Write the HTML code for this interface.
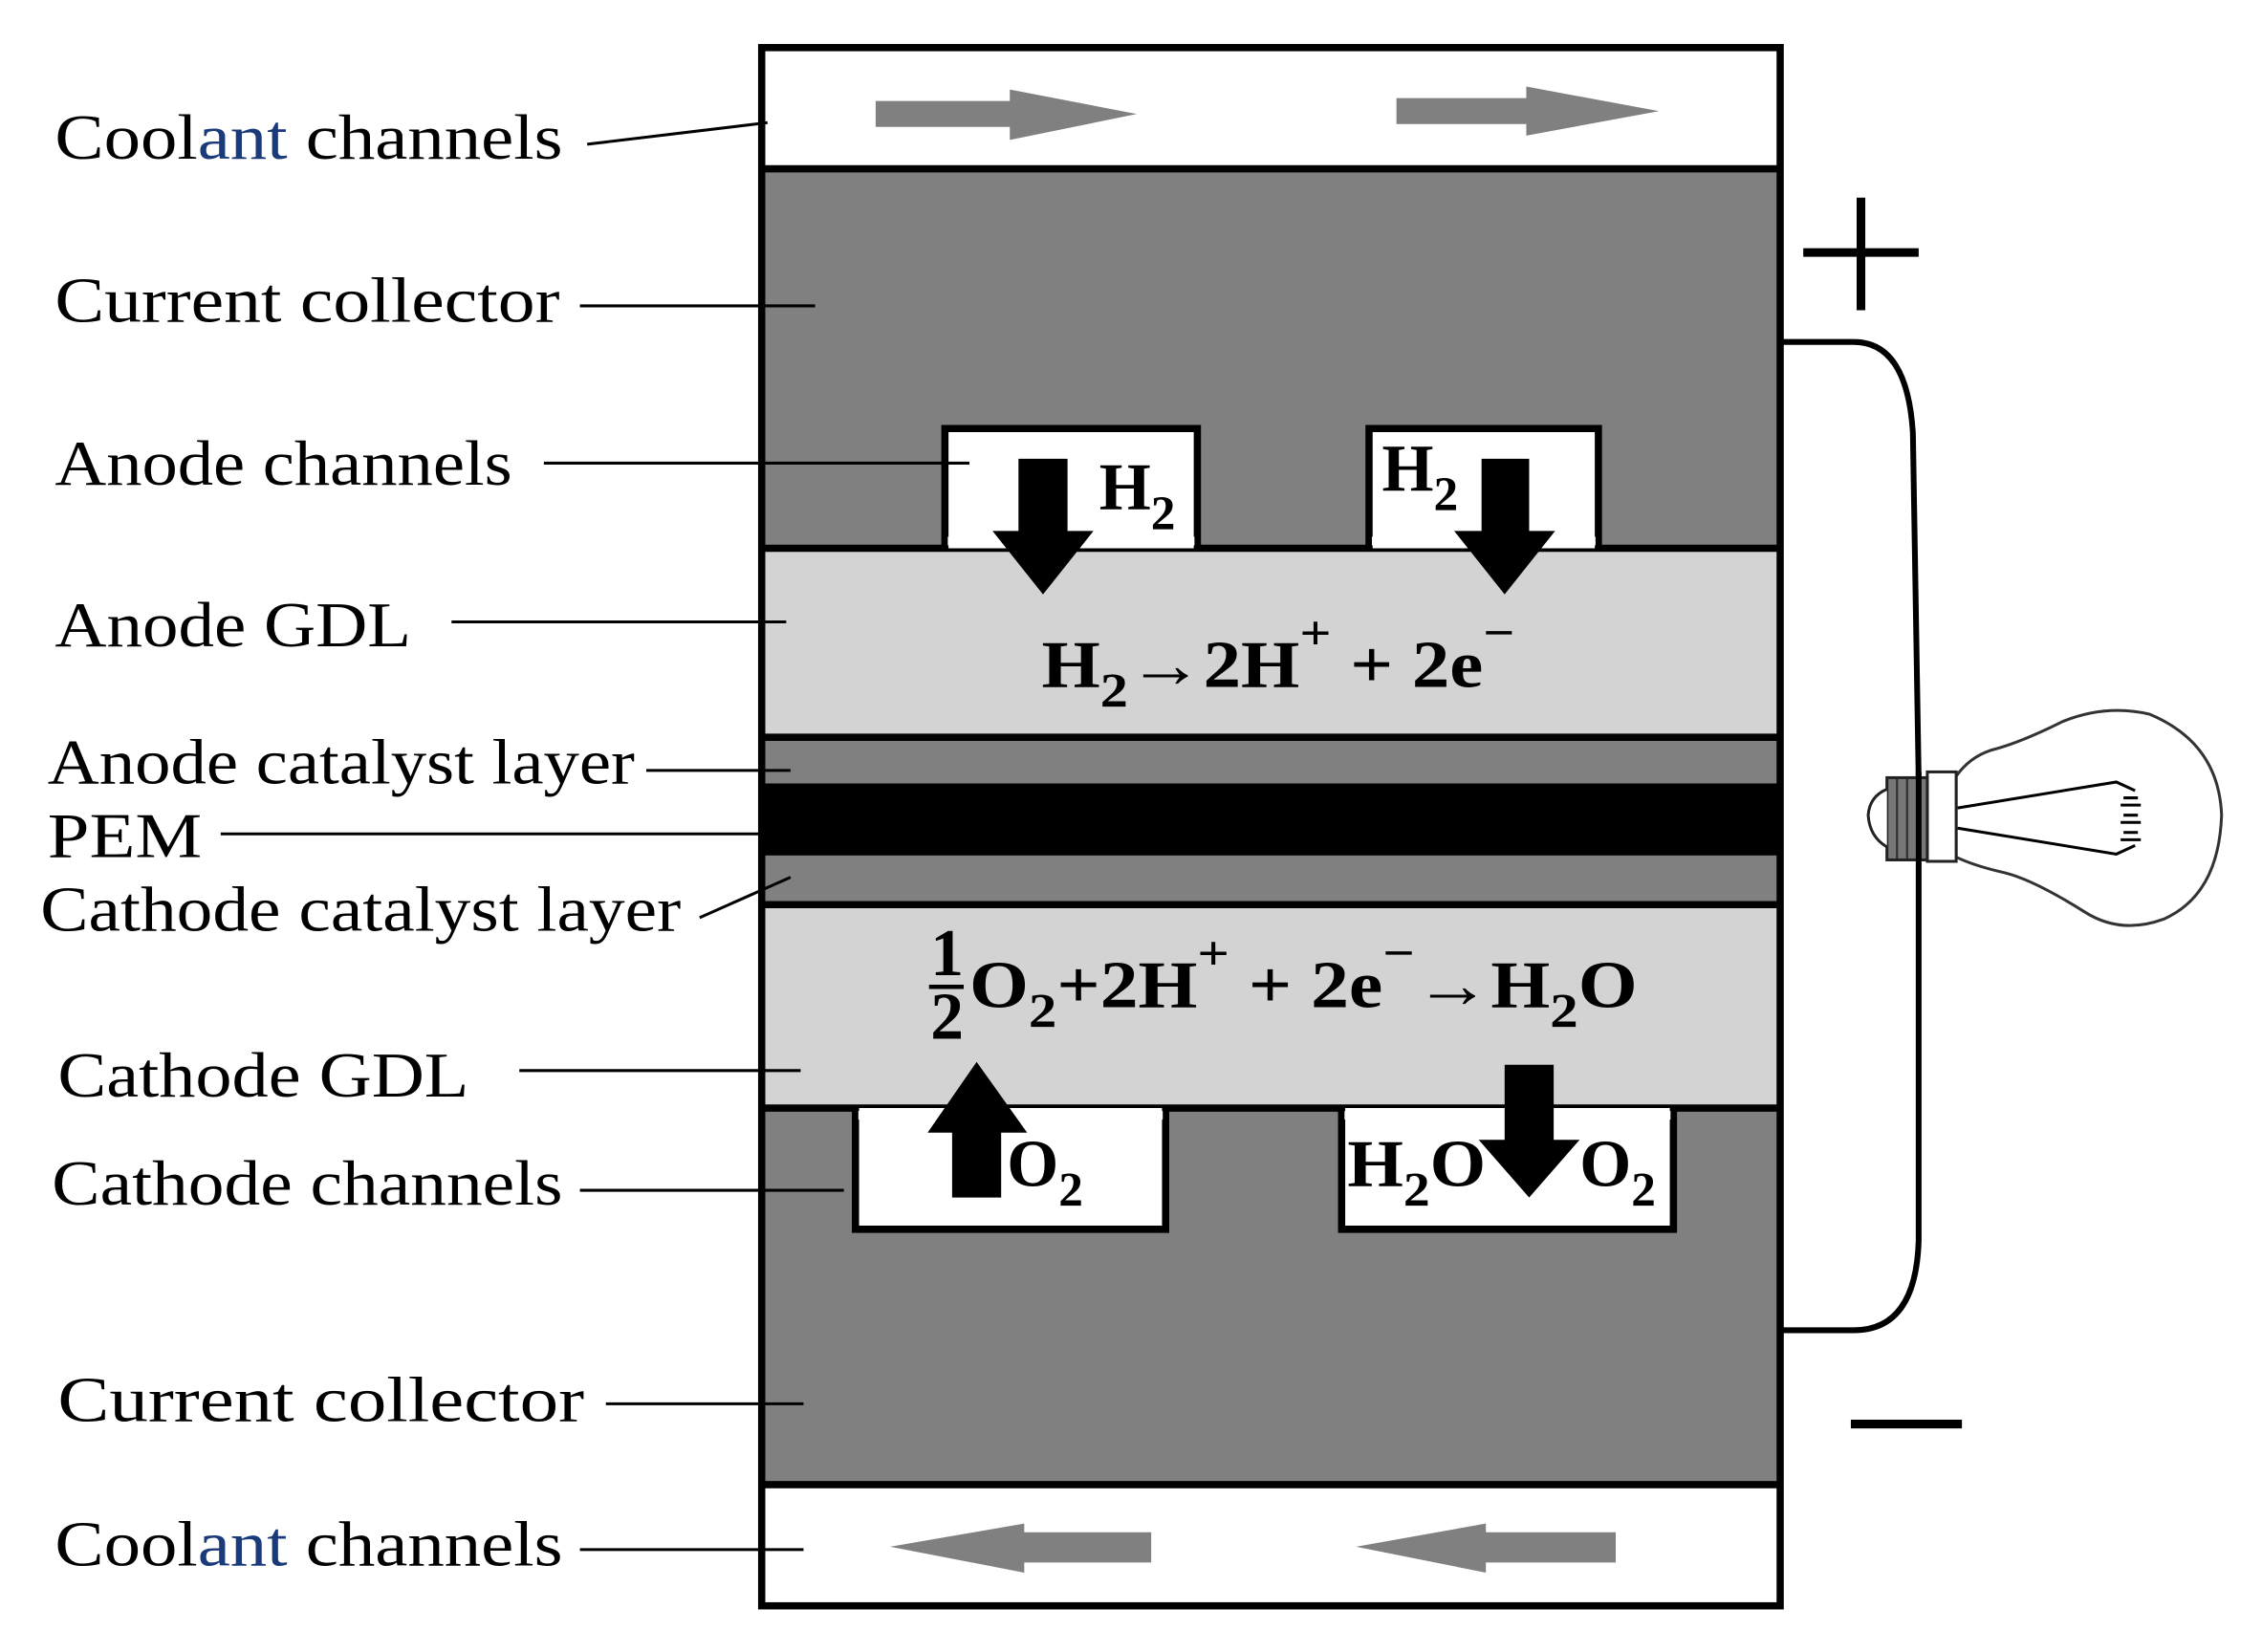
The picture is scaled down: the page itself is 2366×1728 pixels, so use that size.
<!DOCTYPE html>
<html><head><meta charset="utf-8"><style>
html,body{margin:0;padding:0;background:#fff;}
svg{display:block;}
.lab{font-family:"Liberation Serif",serif;font-size:44px;fill:#000;}
.eq{font-family:"Liberation Serif",serif;font-weight:bold;font-size:46px;fill:#000;}
</style></head><body>
<svg width="2366" height="1728" viewBox="0 0 1568 1145" preserveAspectRatio="none" xmlns="http://www.w3.org/2000/svg">
<rect width="1568" height="1145" fill="#fff"/>
<rect x="530" y="35" width="702" height="1076" fill="#fff"/>
<rect x="530" y="117" width="702" height="263" fill="#808080"/>
<rect x="530" y="380" width="702" height="130" fill="#d3d3d3"/>
<rect x="530" y="513" width="702" height="30" fill="#808080"/>
<rect x="530" y="543" width="702" height="50" fill="#000"/>
<rect x="530" y="593" width="702" height="33" fill="#808080"/>
<rect x="530" y="628" width="702" height="140" fill="#d3d3d3"/>
<rect x="530" y="768" width="702" height="260" fill="#808080"/>
<rect x="530" y="1030" width="702" height="81" fill="#fff"/>
<g stroke="#000" stroke-width="5" fill="none">
<line x1="530" y1="117" x2="1232" y2="117"/>
<line x1="530" y1="380" x2="1232" y2="380"/>
<line x1="530" y1="511" x2="1232" y2="511"/>
<line x1="530" y1="627" x2="1232" y2="627"/>
<line x1="530" y1="768" x2="1232" y2="768"/>
<line x1="530" y1="1029" x2="1232" y2="1029"/>
</g>
<g fill="#fff" stroke="#000" stroke-width="5">
<path d="M655 380 V297 H830 V380"/>
<path d="M949 380 V297 H1108 V380"/>
<path d="M593 768 V852 H808 V768"/>
<path d="M930 768 V852 H1160 V768"/>
</g>
<rect x="657" y="372" width="171" height="6" fill="#fff"/>
<rect x="951" y="372" width="155" height="6" fill="#fff"/>
<rect x="595" y="770" width="211" height="6" fill="#fff"/>
<rect x="932" y="770" width="226" height="6" fill="#fff"/>
<rect x="528" y="33" width="706" height="1080" fill="none" stroke="#000" stroke-width="5"/>
<g fill="#808080">
<polygon points="607,70 700,70 700,62 788,79 700,97 700,88 607,88"/>
<polygon points="968,68 1058,68 1058,60 1150,77 1058,94 1058,86 968,86"/>
<polygon points="617,1072 710,1056 710,1062 798,1062 798,1083 710,1083 710,1090"/>
<polygon points="940,1072 1030,1056 1030,1062 1120,1062 1120,1083 1030,1083 1030,1090"/>
</g>
<g fill="#000">
<polygon points="706,318 740,318 740,368 758,368 723,412 688,368 706,368"/>
<polygon points="1027,318 1060,318 1060,368 1078,368 1043,412 1008,368 1027,368"/>
<polygon points="677,736 712,785 694,785 694,830 660,830 660,785 643,785"/>
<polygon points="1043,738 1077,738 1077,790 1095,790 1060,830 1025,790 1043,790"/>
</g>
<text class="eq" x="762" y="353">H<tspan font-size="34" dy="14">2</tspan></text>
<text class="eq" x="958" y="340">H<tspan font-size="34" dy="14">2</tspan></text>
<text class="eq" x="698" y="822">O<tspan font-size="34" dy="14">2</tspan></text>
<text class="eq" x="934" y="822" textLength="96" lengthAdjust="spacingAndGlyphs">H<tspan font-size="34" dy="14">2</tspan><tspan dy="-14">O</tspan></text>
<text class="eq" x="1095" y="822">O<tspan font-size="34" dy="14">2</tspan></text>
<text class="eq" x="722" y="476" textLength="328" lengthAdjust="spacingAndGlyphs">H<tspan font-size="34" dy="14">2</tspan><tspan dy="-14">→2H</tspan><tspan font-size="34" dy="-26">+</tspan><tspan dy="26"> + 2e</tspan><tspan font-size="34" dy="-26">−</tspan></text>
<text class="eq" x="645" y="676" font-size="34">1</text>
<line x1="644" y1="684" x2="668" y2="684" stroke="#000" stroke-width="3"/>
<text class="eq" x="645" y="720" font-size="34">2</text>
<text class="eq" x="672" y="698" textLength="463" lengthAdjust="spacingAndGlyphs">O<tspan font-size="34" dy="14">2</tspan><tspan dy="-14">+2H</tspan><tspan font-size="34" dy="-26">+</tspan><tspan dy="26"> + 2e</tspan><tspan font-size="34" dy="-26">−</tspan><tspan dy="26">→H</tspan><tspan font-size="34" dy="14">2</tspan><tspan dy="-14">O</tspan></text>
<text class="lab" x="38" y="110" textLength="352" lengthAdjust="spacingAndGlyphs">Cool<tspan fill="#1a3a7a">ant</tspan> channels</text>
<text class="lab" x="38" y="223" textLength="350" lengthAdjust="spacingAndGlyphs">Current collector</text>
<text class="lab" x="38" y="336" textLength="317" lengthAdjust="spacingAndGlyphs">Anode channels</text>
<text class="lab" x="38" y="448" textLength="247" lengthAdjust="spacingAndGlyphs">Anode GDL</text>
<text class="lab" x="33" y="543" textLength="407" lengthAdjust="spacingAndGlyphs">Anode catalyst layer</text>
<text class="lab" x="33" y="594" textLength="107" lengthAdjust="spacingAndGlyphs">PEM</text>
<text class="lab" x="28" y="645" textLength="444" lengthAdjust="spacingAndGlyphs">Cathode catalyst layer</text>
<text class="lab" x="40" y="760" textLength="285" lengthAdjust="spacingAndGlyphs">Cathode GDL</text>
<text class="lab" x="36" y="835" textLength="354" lengthAdjust="spacingAndGlyphs">Cathode channels</text>
<text class="lab" x="40" y="985" textLength="365" lengthAdjust="spacingAndGlyphs">Current  collector</text>
<text class="lab" x="38" y="1085" textLength="352" lengthAdjust="spacingAndGlyphs">Cool<tspan fill="#1a3a7a">ant</tspan> channels</text>
<g stroke="#000" stroke-width="2">
<line x1="407" y1="100" x2="532" y2="85"/>
<line x1="402" y1="212" x2="565" y2="212"/>
<line x1="377" y1="321" x2="672" y2="321"/>
<line x1="313" y1="431" x2="545" y2="431"/>
<line x1="448" y1="534" x2="548" y2="534"/>
<line x1="153" y1="578" x2="530" y2="578"/>
<line x1="485" y1="636" x2="548" y2="608"/>
<line x1="360" y1="742" x2="555" y2="742"/>
<line x1="402" y1="825" x2="585" y2="825"/>
<line x1="420" y1="973" x2="557" y2="973"/>
<line x1="402" y1="1074" x2="557" y2="1074"/>
</g>
<g stroke="#000" stroke-width="6">
<line x1="1250" y1="175" x2="1330" y2="175"/>
<line x1="1290" y1="137" x2="1290" y2="215"/>
<line x1="1283" y1="987" x2="1360" y2="987"/>
</g>
<path d="M1234 237 H1285 Q1322 237 1326 300 L1330 540 M1330 598 L1330 860 Q1328 922 1285 922 H1234" fill="none" stroke="#000" stroke-width="4"/>
<path d="M1356 538 Q1365 525 1380 520 Q1400 515 1430 500 Q1460 488 1490 495 Q1538 515 1540 565 Q1538 620 1500 637 Q1470 648 1445 632 Q1410 610 1390 605 Q1368 600 1356 594 Z" fill="#fff" stroke="#333" stroke-width="2"/>
<rect x="1336" y="535" width="20" height="62" fill="#fff" stroke="#222" stroke-width="2"/>
<rect x="1308" y="539" width="28" height="57" fill="#777" stroke="#222" stroke-width="2"/>
<g stroke="#333" stroke-width="1.5">
<line x1="1315" y1="540" x2="1315" y2="595"/><line x1="1322" y1="540" x2="1322" y2="595"/><line x1="1329" y1="540" x2="1329" y2="595"/>
</g>
<line x1="1330" y1="535" x2="1330" y2="598" stroke="#000" stroke-width="4"/>
<path d="M1308 547 Q1296 552 1295 565 Q1296 580 1308 587" fill="#fff" stroke="#222" stroke-width="2"/>
<g fill="none" stroke="#000" stroke-width="2">
<path d="M1357 560 L1467 542 L1480 548"/>
<path d="M1357 574 L1467 592 L1480 586"/>
<path d="M1472 553 h10 M1470 558 h14 M1472 565 h10 M1470 570 h14 M1472 577 h10 M1470 582 h14"/>
</g>
</svg>
</body></html>
